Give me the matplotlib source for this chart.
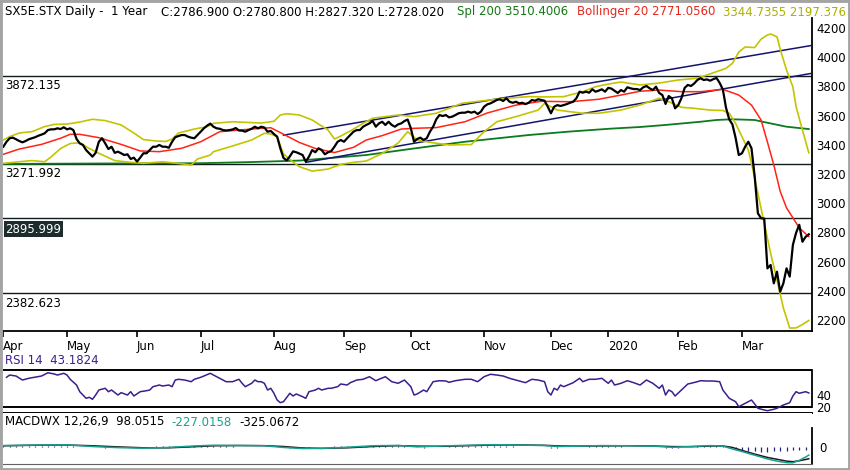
import numpy as np
import pandas as pd
import matplotlib
matplotlib.use('Agg')
import matplotlib.pyplot as plt
from matplotlib.patches import Rectangle

plt.rcParams['font.family'] = ['DejaVu Sans']

# trading calendar (Eurex holidays skipped)
holidays = ['2019-04-19', '2019-04-22', '2019-05-01', '2019-12-24',
            '2019-12-25', '2019-12-26', '2019-12-31', '2020-01-01']

# daily closes, SX5E, Apr 2019 - Mar 2020
close = [3387, 3421, 3445, 3449, 3438, 3426, 3417, 3426, 3438, 3445,
         3452, 3462, 3470, 3479, 3501, 3506, 3506, 3513, 3508, 3520,
         3506, 3513, 3501, 3440, 3410, 3399, 3364, 3342, 3319, 3345,
         3421, 3445, 3410, 3371, 3387, 3345, 3353, 3342, 3330, 3335,
         3303, 3312, 3285, 3312, 3342, 3342, 3364, 3387, 3387, 3399,
         3387, 3387, 3380, 3421, 3452, 3460, 3467, 3467, 3456, 3449,
         3445, 3467, 3490, 3513, 3531, 3545, 3524, 3513, 3510, 3501,
         3498, 3501, 3505, 3515, 3498, 3497, 3490, 3501, 3510, 3524,
         3513, 3524, 3518, 3490, 3495, 3474, 3456, 3376, 3310, 3293,
         3321, 3355, 3349, 3340, 3330, 3285, 3319, 3364, 3349, 3376,
         3364, 3335, 3349, 3357, 3387, 3421, 3433, 3421, 3445, 3467,
         3490, 3501, 3501, 3524, 3536, 3547, 3563, 3524, 3547, 3558,
         3536, 3558, 3536, 3524, 3540, 3547, 3563, 3573, 3513, 3421,
         3440, 3449, 3433, 3445, 3490, 3524, 3575, 3604, 3597, 3604,
         3588, 3593, 3604, 3616, 3620, 3620, 3627, 3620, 3627, 3611,
         3627, 3661, 3677, 3684, 3695, 3707, 3712, 3700, 3719, 3695,
         3688, 3695, 3684, 3688, 3679, 3688, 3707, 3702, 3712, 3707,
         3702, 3661, 3616, 3661, 3672, 3666, 3672, 3679, 3688, 3695,
         3719, 3764, 3757, 3764, 3757, 3780, 3764, 3771, 3780, 3764,
         3790, 3785, 3770, 3755, 3775, 3764, 3794, 3787, 3782, 3782,
         3775, 3794, 3803, 3787, 3775, 3798, 3755, 3741, 3680, 3734,
         3718, 3650, 3672, 3720, 3790, 3810, 3803, 3820, 3844, 3856,
         3844, 3848, 3839, 3850, 3858, 3824, 3779, 3653, 3574, 3540,
         3448, 3330, 3342, 3387, 3421, 3376, 3184, 2931, 2897, 2895,
         2554, 2577, 2451, 2531, 2394, 2451, 2554, 2497, 2715, 2797,
         2852, 2736, 2770, 2787]

# Bollinger 20 (upper / middle / lower) and 200-day average, by session number
upper_day = [0, 2, 5, 9, 13, 16, 20, 24, 28, 32, 37, 41, 44, 48, 51, 53, 55, 60, 64, 66,
             72, 81, 85, 87, 89, 93, 97, 102, 104, 106, 109, 113, 116, 124, 129, 136, 144, 150, 158, 165,
             170, 176, 182, 186, 190, 194, 200, 206, 212, 218, 221, 224, 227, 229, 231, 233, 236, 238, 240, 241,
             243, 244, 246, 248, 249, 251, 253]
upper_val = [3433, 3456, 3481, 3490, 3525, 3540, 3542, 3556, 3575, 3566, 3536, 3481, 3436, 3426, 3423, 3440, 3481, 3508, 3524, 3547,
             3558, 3549, 3561, 3604, 3613, 3604, 3570, 3501, 3440, 3460, 3495, 3547, 3582, 3604, 3593, 3616, 3684, 3700, 3719, 3730,
             3728, 3730, 3764, 3798, 3816, 3830, 3810, 3823, 3844, 3856, 3878, 3901, 3924, 3958, 4035, 4070, 4066, 4124, 4152, 4159,
             4140, 4056, 3912, 3796, 3661, 3501, 3345]

mid_day = [0, 5, 12, 18, 21, 24, 30, 37, 43, 49, 56, 62, 68, 74, 81, 84, 87, 93, 98, 104,
           110, 114, 119, 125, 129, 136, 145, 152, 161, 169, 178, 187, 194, 200, 206, 213, 219, 226, 231, 235,
           238, 240, 242, 244, 246, 248, 250, 253]
mid_val = [3335, 3371, 3403, 3445, 3472, 3472, 3449, 3403, 3358, 3353, 3376, 3421, 3490, 3501, 3513, 3517, 3484, 3416, 3375, 3347,
           3383, 3433, 3463, 3508, 3513, 3518, 3558, 3618, 3672, 3698, 3695, 3712, 3741, 3767, 3775, 3764, 3764, 3780, 3741, 3672,
           3570, 3419, 3262, 3082, 2968, 2900, 2831, 2771]

lower_day = [0, 5, 9, 13, 15, 18, 21, 24, 27, 30, 35, 39, 44, 50, 56, 59, 61, 65, 66, 72,
             78, 82, 84, 86, 88, 91, 93, 97, 102, 106, 110, 114, 119, 124, 127, 130, 134, 140, 147, 151,
             155, 161, 168, 170, 174, 182, 187, 194, 200, 206, 209, 213, 217, 222, 226, 228, 230, 232, 234, 235,
             237, 239, 241, 243, 245, 247, 249, 251, 253]
lower_val = [3273, 3284, 3292, 3284, 3317, 3375, 3409, 3414, 3375, 3342, 3292, 3282, 3273, 3284, 3270, 3261, 3303, 3330, 3353, 3392,
             3433, 3479, 3474, 3456, 3337, 3282, 3250, 3220, 3234, 3266, 3280, 3289, 3341, 3412, 3490, 3433, 3417, 3399, 3402, 3490,
             3558, 3593, 3638, 3684, 3638, 3616, 3616, 3638, 3673, 3719, 3695, 3657, 3650, 3638, 3635, 3616, 3547, 3456, 3364, 3273,
             3068, 2862, 2657, 2474, 2283, 2145, 2146, 2169, 2197]

sma_day = [0, 30, 62, 78, 93, 104, 114, 128, 145, 165, 178, 191, 200, 208, 219, 224, 229, 236, 240, 246, 253]
sma_val = [3269, 3272, 3274, 3282, 3292, 3312, 3330, 3372, 3421, 3467, 3491, 3511, 3522, 3536, 3558, 3570, 3575, 3570, 3551, 3524, 3508]

# drawn trend channel (session, level) and horizontal levels
trend_hi_day, trend_hi_val = [88, 254], [3466, 4081]
trend_lo_day, trend_lo_val = [95, 254], [3280, 3890]
levels = [3872.135, 3271.992, 2895.999, 2382.623]

# RSI 14
rsi_day = [1, 2, 4, 6, 8, 12, 14, 16, 17, 19, 20, 21, 23, 24, 25, 26, 27, 28, 29, 30,
           32, 33, 34, 36, 37, 39, 40, 41, 43, 45, 46, 47, 49, 50, 52, 53, 54, 55, 57, 59,
           60, 62, 63, 65, 66, 68, 70, 72, 74, 75, 76, 78, 79, 80, 81, 82, 83, 84, 85, 86,
           87, 88, 90, 91, 92, 94, 95, 96, 98, 99, 100, 102, 103, 105, 106, 108, 109, 111, 113, 115,
           117, 118, 120, 122, 124, 125, 126, 128, 129, 130, 132, 133, 134, 135, 137, 139, 140, 142, 145, 147,
           149, 151, 153, 155, 157, 159, 161, 164, 166, 168, 170, 171, 172, 173, 174, 175, 176, 179, 181, 182,
           184, 186, 188, 190, 191, 192, 194, 196, 198, 200, 202, 204, 206, 207, 208, 209, 210, 211, 213, 215,
           216, 218, 219, 221, 223, 225, 226, 228, 230, 231, 233, 235, 236, 237, 239, 240, 242, 243, 245, 247,
           248, 249, 250, 252, 253]
rsi_val = [68.6, 72.3, 70.7, 64.2, 67.0, 70.7, 76.0, 74.0, 72.3, 75.1, 72.3, 65.4, 56.1, 45.3, 39.9, 34.6, 36.2, 33.0, 39.9, 48.0,
           50.8, 45.3, 48.0, 39.9, 43.7, 39.9, 45.3, 38.3, 45.3, 46.9, 48.0, 53.4, 56.1, 54.5, 56.1, 53.4, 64.2, 65.4, 64.2, 61.5,
           65.4, 68.6, 70.7, 75.1, 72.3, 67.0, 61.5, 61.5, 65.4, 58.9, 53.4, 58.9, 64.2, 61.5, 61.5, 58.9, 48.0, 50.8, 42.7, 31.8,
           27.5, 29.1, 42.7, 38.3, 41.6, 37.2, 34.6, 45.3, 48.0, 50.8, 48.0, 50.8, 50.8, 53.4, 57.8, 56.1, 59.9, 64.2, 65.4, 69.6,
           63.1, 65.4, 69.6, 61.5, 58.9, 61.5, 64.2, 53.4, 39.9, 41.6, 48.0, 45.3, 53.4, 61.5, 63.1, 62.6, 60.5, 63.1, 65.4, 65.4,
           61.5, 69.6, 73.5, 72.3, 70.7, 67.0, 64.2, 59.9, 65.4, 64.2, 61.5, 45.3, 39.9, 50.8, 48.0, 56.1, 53.4, 59.9, 67.0, 61.5,
           65.4, 65.4, 67.0, 58.9, 64.2, 56.1, 58.9, 63.1, 59.9, 56.1, 64.2, 58.9, 50.8, 56.1, 39.9, 48.0, 45.3, 38.3, 48.0, 57.8,
           58.9, 61.5, 63.1, 62.6, 62.6, 61.5, 48.0, 34.6, 29.1, 21.0, 26.5, 31.8, 25.3, 18.4, 15.6, 14.5, 16.8, 18.4, 23.7, 27.5,
           38.3, 45.3, 42.7, 45.3, 43.2]

# MACD 12,26,9
macd_day = [0, 10, 20, 28, 36, 44, 52, 60, 66, 74, 82, 88, 94, 100, 108, 116, 124, 130, 138, 146,
            154, 162, 170, 174, 180, 188, 196, 204, 210, 216, 222, 226, 229, 232, 236, 240, 243, 246, 248, 250,
            252, 253]
macd_val = [30, 45, 50, 5, -25, -40, -20, 20, 40, 30, 25, -20, -50, -45, -15, 25, 35, -5, 20, 40,
            55, 45, 30, 5, 15, 30, 25, 15, -15, 5, 30, 15, -60, -130, -230, -330, -390, -430, -435, -370,
            -280, -227]
signal_val = [25, 40, 45, 25, -5, -30, -30, 0, 25, 33, 28, 5, -35, -45, -30, 5, 28, 15, 10, 28,
              45, 48, 38, 22, 15, 22, 26, 20, 3, 0, 18, 20, -20, -100, -200, -290, -340, -390, -405, -380,
              -345, -325]
# histogram, every second session
hist_val = [10, 10, 12, 10, 8, 10, 10, 8, 10, 10, 8, 6, 4, 2,
            -16, -20, -24, -20, -16, -12, -8, -4, 0, 4, 8, 12,
            16, 20, 24, 28, 30, 28, 24, 20, 16, 10, 6, 4, 0, -2, -4, -4, -6, -8,
            -20, -28, -32, -30, -24, -16, -8, 0, 8, 16, 20, 24,
            28, 30, 28, 24, 20, 16, 12, 10, 4,
            -20, -24, -16, -8, 0, 8, 12, 16, 20, 20, 22,
            20, 18, 16, 12, 8, 4, 0, -6, -10, -16,
            -24, -28, -20, -12, -4, 4, 10, 14, 16, 16,
            12, 8, 4, 0, -4, -8, -12, -20, -28, -32, -24, -12, 0, 12, 20, 24, 20, 12,
            -30, -60, -90, -110, -125, -130, -130, -125, -120, -110, -100, -90, -80]

days = pd.bdate_range('2019-04-01', '2020-03-31', freq='C', holidays=holidays)
assert len(days) == len(close)
sess = np.arange(len(days))
firsts = pd.Series(sess, index=days).groupby(days.to_period('M')).first()
tick_pos = firsts.values
tick_lab = ['2020' if p.month == 1 else p.strftime('%b') for p in firsts.index]
hist_day = sess[::2][:len(hist_val)]

W, H = 850, 470
fig = plt.figure(figsize=(W / 100, H / 100), dpi=100)
fig.patch.set_facecolor('white')

def frac(x0, y0, x1, y1):
    return [x0 / W, 1 - y1 / H, (x1 - x0) / W, (y1 - y0) / H]

xlim = (-0.1, 254.0)
fs = 8.5

# ---- price panel ----
ax = fig.add_axes(frac(3, 3, 812, 331))
ax.set_xlim(*xlim)
ax.set_ylim(2124.8, 4371.3)
for lv in levels:
    ax.axhline(lv, color='#101c1c', lw=1.0, zorder=2)
ax.plot(sma_day, sma_val, color='#0c7a1e', lw=1.3, zorder=3)
ax.plot(trend_hi_day, trend_hi_val, color='#14146e', lw=1.1, zorder=3)
ax.plot(trend_lo_day, trend_lo_val, color='#14146e', lw=1.1, zorder=3)
ax.plot(upper_day, upper_val, color='#c4c400', lw=1.2, zorder=4)
ax.plot(lower_day, lower_val, color='#c4c400', lw=1.2, zorder=4)
ax.plot(mid_day, mid_val, color='#ff2414', lw=1.1, zorder=4)
ax.plot(sess, close, color='black', lw=1.6, zorder=5)

for lv in levels:
    hl = lv == 2895.999
    ax.annotate(f'{lv:.3f}', xy=(0, lv), xycoords=('axes fraction', 'data'),
                xytext=(1.5, -2.5 if not hl else -3.2), textcoords='offset points',
                va='top', ha='left', fontsize=fs,
                color='white' if hl else 'black',
                bbox=dict(boxstyle='square,pad=0.12', fc='#1c2c2c', ec='none') if hl else None,
                zorder=6)

ax.spines['top'].set_visible(False)
ax.spines['left'].set_visible(False)
ax.spines['right'].set_bounds(2124.8, 4268.5)
ax.spines['right'].set_linewidth(1.3)
ax.spines['bottom'].set_linewidth(1.3)
ax.yaxis.tick_right()
ax.set_yticks(range(2200, 4201, 200))
ax.tick_params(axis='y', length=0, pad=3, labelsize=fs)
ax.set_xticks(tick_pos)
ax.set_xticklabels(tick_lab, ha='left')
ax.tick_params(axis='x', direction='out', length=4.5, width=1.2, pad=2, labelsize=fs)

# ---- RSI panel ----
ar = fig.add_axes(frac(3, 366, 812, 413))
ar.set_xlim(*xlim)
ar.set_ylim(10.76, 86.94)
ar.axhline(80, color='black', lw=1.4)
ar.axhline(20, color='black', lw=1.4)
ar.plot(rsi_day, rsi_val, color='#3c1e8c', lw=1.1)
for s in ['top', 'left']:
    ar.spines[s].set_visible(False)
ar.spines['right'].set_bounds(20, 80)
ar.spines['right'].set_linewidth(1.3)
ar.spines['bottom'].set_linewidth(1.4)
ar.set_xticks([])
ar.yaxis.tick_right()
ar.set_yticks([40, 20])
ar.tick_params(axis='y', length=0, pad=3, labelsize=fs)

# ---- MACD panel ----
am = fig.add_axes(frac(3, 413, 812, 464))
am.set_xlim(*xlim)
am.set_ylim(-467.6, 910.8)
am.vlines(hist_day, 0, hist_val, color='#24247a', lw=0.9)
am.plot(macd_day, signal_val, color='#1a1a1a', lw=1.1)
am.plot(macd_day, macd_val, color='#17a08e', lw=1.1)
for s in ['top', 'left']:
    am.spines[s].set_visible(False)
am.spines['right'].set_bounds(-467.6, 505)
am.spines['right'].set_linewidth(1.3)
am.spines['bottom'].set_color('#606060')
am.set_xticks([])
am.yaxis.tick_right()
am.set_yticks([0])
am.tick_params(axis='y', length=0, pad=5, labelsize=fs)

# ---- header texts ----
def put(x, y, s, c='black'):
    fig.text(x / W, 1 - y / H, s, color=c, fontsize=fs, va='center', ha='left')

put(5, 12, 'SX5E.STX Daily -  1 Year')
put(161, 12, 'C:2786.900 O:2780.800 H:2827.320 L:2728.020')
put(457, 12, 'Spl 200 3510.4006', '#147814')
put(577, 12, 'Bollinger 20 2771.0560', '#e2281e')
put(723, 12, '3344.7355 2197.376', '#b0b000')
put(5, 361, 'RSI 14  43.1824', '#3c1e8c')
put(5, 422, 'MACDWX 12,26,9  98.0515')
put(171, 422, '-227.0158', '#17a08e')
put(239, 422, '-325.0672')

fig.patches.append(Rectangle((0, 0), 1, 1, transform=fig.transFigure, fill=False,
                             edgecolor='#a4a4a4', lw=3.5))

fig.savefig('out.png', dpi=100)
